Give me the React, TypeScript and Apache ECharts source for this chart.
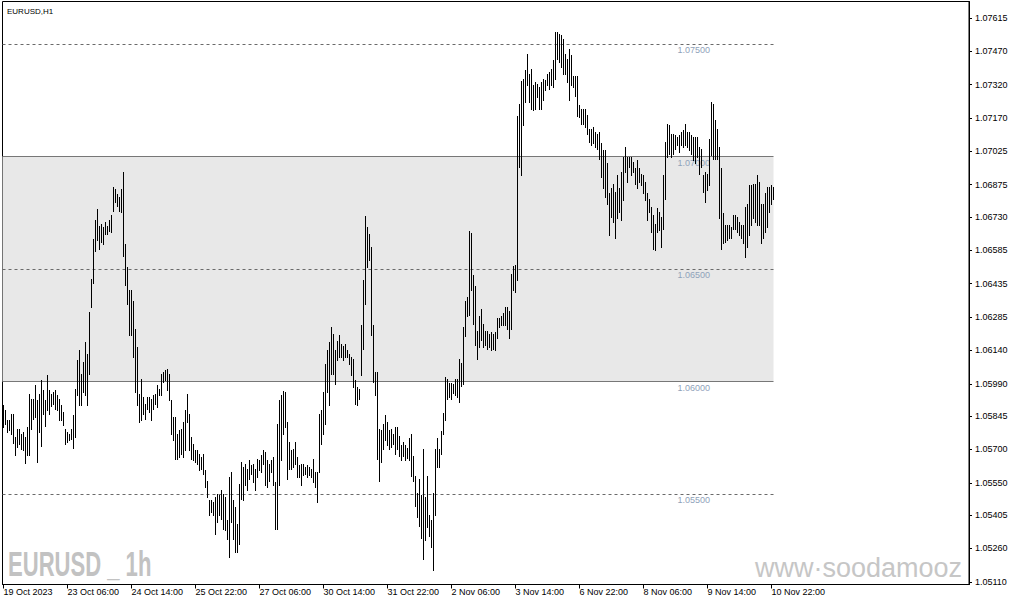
import { useEffect, useRef } from "react";
import * as echarts from "echarts";

const highs = [
  1.05894,1.05872,1.05828,1.05828,1.05857,1.05857,1.05754,1.05791,1.05791,1.05768,
  1.05776,1.05754,1.05798,1.05946,1.05924,1.05924,1.05983,1.05916,1.05946,1.06005,
  1.05961,1.05916,1.06027,1.05961,1.05946,1.05953,1.05961,1.05939,1.05924,1.05894,
  1.05865,1.05791,1.05776,1.05768,1.05791,1.0585,1.05968,1.06094,1.06141,1.06035,
  1.06087,1.06175,1.06124,1.06309,1.06457,1.06634,1.06716,1.06767,1.06693,1.06701,
  1.06686,1.06708,1.06693,1.06716,1.06738,1.06864,1.06856,1.06834,1.06819,1.06856,
  1.0693,1.06612,1.06508,1.06405,1.06405,1.0636,1.06235,1.06153,1.05946,1.06013,
  1.05931,1.05902,1.05931,1.05931,1.05924,1.05939,1.05946,1.05983,1.05968,1.06035,
  1.06042,1.0605,1.06057,1.06035,1.05916,1.05842,1.05842,1.05768,1.05783,1.05791,
  1.0582,1.05872,1.05946,1.05857,1.05754,1.05724,1.05694,1.05694,1.0568,1.05664,
  1.05679,1.05605,1.0556,1.05472,1.05472,1.05465,1.05487,1.05502,1.05494,1.05516,
  1.05502,1.05487,1.05383,1.05576,1.05598,1.05472,1.05442,1.05368,1.05546,1.05642,
  1.0562,1.05635,1.05613,1.0565,1.05627,1.05635,1.05613,1.05657,1.0565,1.05672,
  1.05694,1.05687,1.0565,1.05635,1.0565,1.05664,1.05553,1.05812,1.05916,1.05938,
  1.0596,1.05953,1.0582,1.05731,1.05694,1.05701,1.05731,1.05664,1.05627,1.05635,
  1.05635,1.0562,1.05627,1.0562,1.05613,1.05657,1.05598,1.05598,1.05857,1.05872,
  1.05953,1.06079,1.06138,1.06175,1.06242,1.06212,1.06138,1.06182,1.06205,1.06168,
  1.0616,1.06168,1.06138,1.06123,1.06108,1.06101,1.06005,1.05975,1.05968,1.06249,
  1.06449,1.06737,1.06686,1.06656,1.06597,1.06249,1.06042,1.06042,1.0579,1.05783,
  1.05812,1.05849,1.0582,1.05783,1.0579,1.05768,1.05797,1.05797,1.05757,1.05717,
  1.05733,1.05717,1.05705,1.05749,1.05765,1.05669,1.05582,1.05503,1.05566,1.05495,
  1.05701,1.05487,1.05582,1.05407,1.05383,1.05503,1.05701,1.05749,1.05701,1.05781,
  1.0586,1.06019,1.06011,1.05995,1.05995,1.05987,1.06011,1.06011,1.06098,1.06083,
  1.06241,1.0636,1.06377,1.0667,1.06662,1.06472,1.06424,1.06226,1.0629,1.06321,
  1.06257,1.06226,1.06226,1.0621,1.06218,1.0621,1.06218,1.06281,1.06281,1.06289,
  1.06305,1.06329,1.06329,1.06313,1.0648,1.06512,1.0652,1.07182,1.07234,1.07334,
  1.07344,1.07383,1.07457,1.07368,1.0739,1.07316,1.07331,1.07323,1.07308,1.07331,
  1.07345,1.07338,1.07368,1.07375,1.0739,1.07427,1.07553,1.07553,1.07546,1.07538,
  1.07523,1.07457,1.07434,1.07479,1.07449,1.0736,1.0736,1.0736,1.07227,1.07212,
  1.07212,1.07213,1.07183,1.07124,1.07124,1.07132,1.0711,1.07102,1.0711,1.07058,
  1.07028,1.07028,1.06969,1.06836,1.06858,1.0688,1.06843,1.06917,1.06858,1.06932,
  1.06998,1.07043,1.06998,1.06998,1.06998,1.06976,1.06947,1.06984,1.06947,1.06924,
  1.06917,1.06887,1.06836,1.06813,1.06776,1.06739,1.06702,1.06769,1.06754,1.06732,
  1.06917,1.07065,1.07146,1.07139,1.07102,1.07102,1.07095,1.07087,1.07095,1.0711,
  1.07117,1.07146,1.0711,1.0711,1.07095,1.07087,1.07087,1.07087,1.07043,1.07035,
  1.06917,1.06932,1.06924,1.0708,1.07243,1.07235,1.07161,1.07124,1.07043,1.06947,
  1.06747,1.06695,1.06695,1.06695,1.06688,1.06739,1.06739,1.06732,1.0671,1.06695,
  1.06695,1.06776,1.06791,1.06873,1.06873,1.0688,1.0688,1.06917,1.06887,1.06791,
  1.06791,1.06836,1.06865,1.06865,1.06872,1.06865,
];

const lows = [
  1.05798,1.05813,1.05776,1.05783,1.05768,1.05727,1.05672,1.05709,1.05724,1.05702,
  1.05694,1.05638,1.05672,1.05672,1.05791,1.05835,1.05842,1.05643,1.05776,1.05712,
  1.05857,1.05801,1.05872,1.05857,1.0589,1.05902,1.05879,1.05872,1.05828,1.05828,
  1.05805,1.05724,1.05731,1.05739,1.05746,1.05706,1.05754,1.05939,1.05894,1.05894,
  1.05953,1.05939,1.05894,1.06035,1.06331,1.06437,1.06582,1.06627,1.0659,1.06619,
  1.06612,1.06656,1.06656,1.06671,1.06664,1.0676,1.06797,1.06782,1.0676,1.06753,
  1.0656,1.06427,1.06346,1.06205,1.06205,1.06109,1.05953,1.05894,1.0582,1.05828,
  1.05857,1.05835,1.05879,1.05865,1.05828,1.05879,1.05902,1.05887,1.05939,1.05939,
  1.05998,1.06005,1.05961,1.05916,1.05768,1.05739,1.05657,1.05657,1.05665,1.0568,
  1.05665,1.05694,1.0582,1.05694,1.05657,1.0565,1.05643,1.05635,1.05606,1.0561,
  1.0559,1.05531,1.05487,1.05405,1.0542,1.05405,1.05324,1.05376,1.05405,1.0539,
  1.05346,1.05339,1.05302,1.0522,1.05376,1.05302,1.05243,1.05243,1.0528,1.05479,
  1.05472,1.05539,1.05516,1.05568,1.0559,1.05553,1.05516,1.05576,1.05605,1.05598,
  1.05635,1.05539,1.05531,1.0556,1.05598,1.05539,1.05346,1.05346,1.05539,1.0565,
  1.05768,1.05798,1.05568,1.05613,1.05613,1.0562,1.05635,1.05576,1.05576,1.05539,
  1.05583,1.0559,1.05576,1.05583,1.05576,1.05553,1.05531,1.05465,1.05598,1.05724,
  1.05768,1.05812,1.05953,1.05894,1.06034,1.06034,1.0599,1.06094,1.06108,1.06108,
  1.06094,1.06108,1.06108,1.06079,1.06027,1.05975,1.05901,1.05894,1.05923,1.06027,
  1.06145,1.06345,1.06508,1.06538,1.06205,1.05997,1.05938,1.05657,1.0556,1.05642,
  1.05701,1.05738,1.05716,1.05701,1.05709,1.05722,1.05677,1.05701,1.05669,1.05653,
  1.05669,1.05653,1.0566,1.05653,1.05582,1.05558,1.05447,1.05399,1.05359,1.05304,
  1.05209,1.05296,1.05352,1.05312,1.05264,1.05161,1.05407,1.05622,1.05622,1.05677,
  1.05765,1.05828,1.05924,1.05932,1.05924,1.05948,1.0594,1.05932,1.05908,1.05979,
  1.05987,1.06202,1.06289,1.06297,1.06408,1.06257,1.06162,1.06099,1.06154,1.06186,
  1.06154,1.06162,1.06146,1.06154,1.06138,1.06146,1.06138,1.06194,1.06241,1.06249,
  1.06249,1.06249,1.06233,1.06194,1.06233,1.06408,1.064,1.0645,1.06952,1.0692,
  1.07138,1.07242,1.07316,1.07242,1.07212,1.07205,1.07212,1.07264,1.07212,1.07212,
  1.07249,1.07294,1.07316,1.07301,1.07316,1.07308,1.07345,1.07434,1.0742,1.07397,
  1.07368,1.07368,1.07331,1.07249,1.07316,1.07308,1.07271,1.07182,1.07175,1.07145,
  1.07145,1.07132,1.07102,1.07065,1.0705,1.07058,1.07043,1.07035,1.06991,1.0691,
  1.06858,1.06821,1.06791,1.06651,1.06732,1.0671,1.06636,1.06725,1.06754,1.06717,
  1.06806,1.06932,1.06887,1.06954,1.06917,1.06932,1.0688,1.06858,1.06887,1.06873,
  1.06836,1.06806,1.06717,1.06754,1.06665,1.06591,1.06584,1.06665,1.06673,1.06599,
  1.0668,1.06813,1.06998,1.07013,1.06998,1.07013,1.07035,1.0705,1.0702,1.0705,
  1.07043,1.0705,1.07043,1.07028,1.07013,1.06984,1.06969,1.06998,1.06924,1.06954,
  1.06843,1.06799,1.0685,1.06873,1.07006,1.06991,1.06991,1.06991,1.06725,1.06591,
  1.06614,1.06621,1.06628,1.06636,1.06636,1.0668,1.0668,1.06665,1.06651,1.06636,
  1.06614,1.06554,1.06599,1.06651,1.06695,1.06725,1.0671,1.06695,1.06695,1.06614,
  1.06636,1.06665,1.06688,1.06754,1.0679,1.06812,
];

const xTickIndex = [0, 32, 64, 96, 128, 160, 192, 224, 256, 288, 320, 352, 384];
const xTickLabels = [
  "19 Oct 2023", "23 Oct 06:00", "24 Oct 14:00", "25 Oct 22:00", "27 Oct 06:00",
  "30 Oct 14:00", "31 Oct 22:00", "2 Nov 06:00", "3 Nov 14:00", "6 Nov 22:00",
  "8 Nov 06:00", "9 Nov 14:00", "10 Nov 22:00",
];
const yTicks = [
  1.07615, 1.0747, 1.0732, 1.0717, 1.07025, 1.06875, 1.0673, 1.06585, 1.06435,
  1.06285, 1.0614, 1.0599, 1.05845, 1.057, 1.0555, 1.05405, 1.0526, 1.0511,
];
const zoneLow = 1.06;
const zoneHigh = 1.07;
const dashedLevels = [1.075, 1.065, 1.055];
const solidLevels = [zoneHigh, zoneLow];
const levelLabels = [1.075, 1.07, 1.065, 1.06, 1.055];
const LABEL_INDEX = 337;

const FONT = '"Liberation Sans", Arial, sans-serif';

export default function App() {
  const ref = useRef<HTMLDivElement>(null);
  useEffect(() => {
    document.body.style.margin = "0";
    const chart = echarts.init(ref.current!, null, { renderer: "svg" });
    const n = Math.min(highs.length, lows.length);
    const last = n - 1;
    const bars = [];
    for (let i = 0; i < n; i++) bars.push([i, highs[i], lows[i]]);

    const lineData: any[] = [];
    dashedLevels.forEach((v) =>
      lineData.push([
        { coord: [-0.5, v], lineStyle: { type: [3, 3], color: "#6a6a6a", width: 1 } },
        { coord: [last, v] },
      ])
    );
    solidLevels.forEach((v) =>
      lineData.push([
        { coord: [-0.5, v], lineStyle: { type: "solid", color: "#777777", width: 1 } },
        { coord: [last, v] },
      ])
    );

    const option: any = {
      animation: false,
      backgroundColor: "#ffffff",
      grid: {
        left: 2.5,
        top: 1.5,
        width: 966.5,
        height: 583,
        show: true,
        borderColor: "#000",
        borderWidth: 1,
        backgroundColor: "transparent",
      },
      xAxis: {
        type: "value",
        min: -0.5,
        max: 482.75,
        axisLine: { show: true, onZero: false, lineStyle: { color: "#000", width: 1 } },
        splitLine: { show: false },
        axisTick: { show: true, customValues: xTickIndex, length: 4, lineStyle: { color: "#000" } },
        axisLabel: {
          customValues: xTickIndex,
          formatter: (v: number) => xTickLabels[xTickIndex.indexOf(v)] ?? "",
          align: "left",
          margin: 3,
          color: "#000",
          fontSize: 9,
          fontFamily: FONT,
        },
      },
      yAxis: {
        type: "value",
        position: "right",
        min: 1.050978,
        max: 1.076889,
        axisLine: { show: true, onZero: false, lineStyle: { color: "#000", width: 1 } },
        splitLine: { show: false },
        axisTick: { show: true, customValues: yTicks, length: 3, lineStyle: { color: "#000" } },
        axisLabel: {
          customValues: yTicks,
          formatter: (v: number) => v.toFixed(5),
          margin: 6,
          color: "#000",
          fontSize: 9,
          fontFamily: FONT,
        },
      },
      graphic: [
        {
          type: "text",
          x: 7,
          y: 7,
          style: { text: "EURUSD,H1", fontSize: 8, fontFamily: FONT, fill: "#000" },
        },
        {
          type: "text",
          x: 8,
          y: 547,
          scaleX: 0.63,
          style: {
            text: "EURUSD _ 1h",
            fontSize: 35,
            fontWeight: "bold",
            fontFamily: '"Liberation Sans Narrow", "Liberation Sans", Arial, sans-serif',
            fill: "#c2c2c2",
          },
        },
      ],
      series: [
        {
          type: "custom",
          name: "EURUSD",
          z: 3,
          clip: true,
          data: bars,
          encode: { x: 0, y: [1, 2] },
          renderItem: (_p: any, api: any) => {
            const i = api.value(0);
            const top = api.coord([i, api.value(1)]);
            const bot = api.coord([i, api.value(2)]);
            const x = Math.round(top[0] - 0.5) + 0.5;
            return {
              type: "line",
              shape: { x1: x, y1: Math.round(top[1]), x2: x, y2: Math.round(bot[1]) + 1 },
              style: { stroke: "#000", lineWidth: 1 },
            };
          },
          markArea: {
            silent: true,
            z: 1,
            itemStyle: { color: "#e8e8e8" },
            data: [[{ coord: [-0.5, zoneHigh] }, { coord: [last, zoneLow] }]],
          },
          markLine: {
            silent: true,
            z: 2,
            symbol: "none",
            label: { show: false },
            data: lineData,
          },
          markPoint: {
            silent: true,
            z: 2,
            symbol: "circle",
            symbolSize: 0,
            label: {
              show: true,
              position: [0, 0],
              offset: [0, 6],
              align: "left",
              verticalAlign: "middle",
              formatter: (p: any) => Number(p.value).toFixed(5),
              color: "#8fa3ba",
              fontSize: 9,
              fontFamily: FONT,
            },
            data: levelLabels.map((v) => ({ coord: [LABEL_INDEX, v], value: v })),
          },
        },
        {
          type: "custom",
          name: "watermark",
          z: 1,
          clip: true,
          silent: true,
          data: [[0]],
          encode: { x: 0 },
          renderItem: (params: any) => {
            const cs = params.coordSys;
            return {
              type: "text",
              x: 755,
              y: cs.y + cs.height - 3,
              style: {
                text: "www\u00b7soodamooz\u00b7com",
                width: cs.x + cs.width - 756,
                overflow: "truncate",
                ellipsis: "",
                fontSize: 27,
                fontFamily: FONT,
                fill: "#c6c6c6",
                verticalAlign: "bottom",
                align: "left",
              },
            };
          },
        },
      ],
    };
    chart.setOption(option);
    return () => chart.dispose();
  }, []);
  return (
    <div
      ref={ref}
      style={{ position: "fixed", left: 0, top: 0, width: 1015, height: 605, background: "#fff" }}
    />
  );
}
